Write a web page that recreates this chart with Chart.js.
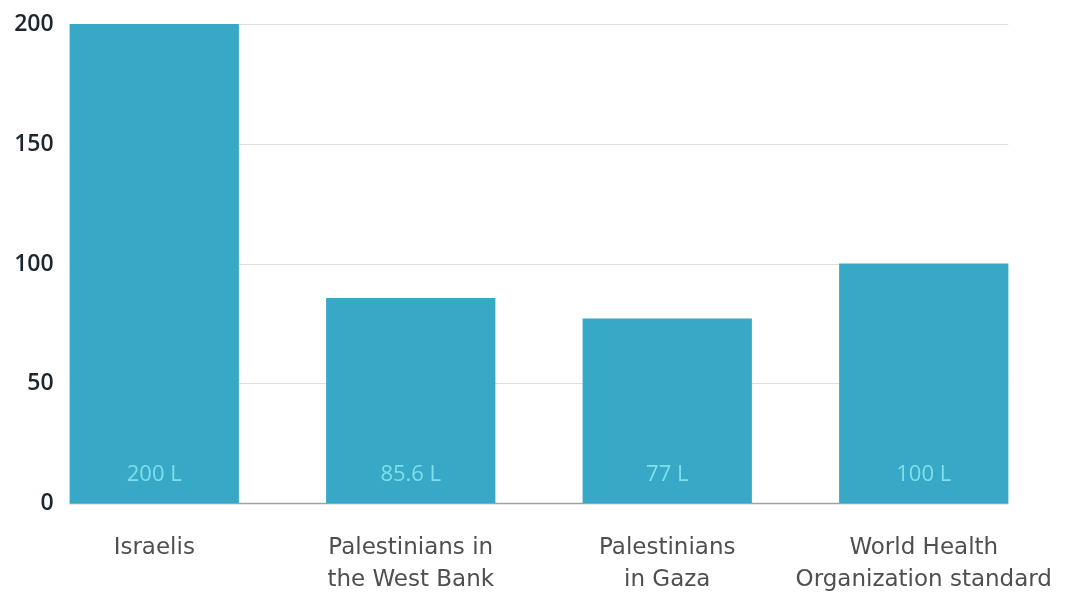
<!DOCTYPE html>
<html>
<head>
<meta charset="utf-8">
<script src="https://cdn.jsdelivr.net/npm/chart.js@4"></script>
<style>
  body { margin: 0; background: #fff; }
</style>
</head>
<body>
<canvas id="myChart" width="1072" height="592"></canvas>
<script>
const categories = [["Israelis"], ["Palestinians in", "the West Bank"], ["Palestinians", "in Gaza"], ["World Health", "Organization standard"]]
const litres = [200, 85.6, 77, 100]
const valueLabels = ["200 L", "85.6 L", "77 L", "100 L"]
const yTicks = [0, 50, 100, 150, 200]

const barColor = '#37a9c6'
const ctx = document.getElementById('myChart')

// grid lines only go from the first bar to the last one, tick labels sit left of the first bar
const gridPlugin = {
  id: 'gridSpan',
  beforeDatasetsDraw(chart) {
    const c = chart.ctx
    const y = chart.scales.y
    const bars = chart.getDatasetMeta(0).data
    const left = bars[0].x - bars[0].width / 2
    const right = bars[bars.length - 1].x + bars[bars.length - 1].width / 2
    c.save()
    c.font = '600 23px "Open Sans", sans-serif'
    c.textAlign = 'right'
    c.textBaseline = 'middle'
    yTicks.forEach(function (t) {
      const py = Math.round(y.getPixelForValue(t)) + 0.5
      c.strokeStyle = t === 0 ? '#9aa3a8' : '#dedede'
      c.lineWidth = t === 0 ? 1.5 : 1
      c.beginPath()
      c.moveTo(left, py)
      c.lineTo(right, py)
      c.stroke()
      c.fillStyle = '#1c2630'
      c.fillText(String(t), left - 16, py)
    })
    c.restore()
  }
}

const valuePlugin = {
  id: 'valueText',
  afterDatasetsDraw(chart) {
    const c = chart.ctx
    const bars = chart.getDatasetMeta(0).data
    const base = chart.scales.y.getPixelForValue(0)
    c.save()
    c.font = '22px "Open Sans", sans-serif'
    c.fillStyle = '#7fdfea'
    c.textAlign = 'center'
    c.textBaseline = 'middle'
    bars.forEach(function (b, i) {
      c.fillText(valueLabels[i], b.x, base - 28)
    })
    c.restore()
  }
}

new Chart(ctx, {
  type: 'bar',
  data: {
    labels: categories,
    datasets: [{
      data: litres,
      backgroundColor: barColor,
      borderWidth: 0,
      categoryPercentage: 1,
      barPercentage: 0.66
    }]
  },
  options: {
    responsive: false,
    animation: false,
    layout: { padding: { top: 24, left: 26, right: 20, bottom: 0 } },
    plugins: { legend: { display: false }, tooltip: { enabled: false } },
    scales: {
      x: {
        afterFit: function (scale) {
          scale.height = 89
          scale.paddingLeft = 0
          scale.paddingRight = 0
        },
        grid: { display: false, drawTicks: false },
        border: { display: false },
        ticks: {
          color: '#4f4f4f',
          padding: 30,
          maxRotation: 0,
          autoSkip: false,
          font: { family: '"DejaVu Sans", sans-serif', size: 23, lineHeight: 1.35 }
        }
      },
      y: {
        min: 0,
        max: 200,
        grid: { display: false, drawTicks: false },
        border: { display: false },
        ticks: { display: false }
      }
    }
  },
  plugins: [gridPlugin, valuePlugin]
})
</script>
</body>
</html>
